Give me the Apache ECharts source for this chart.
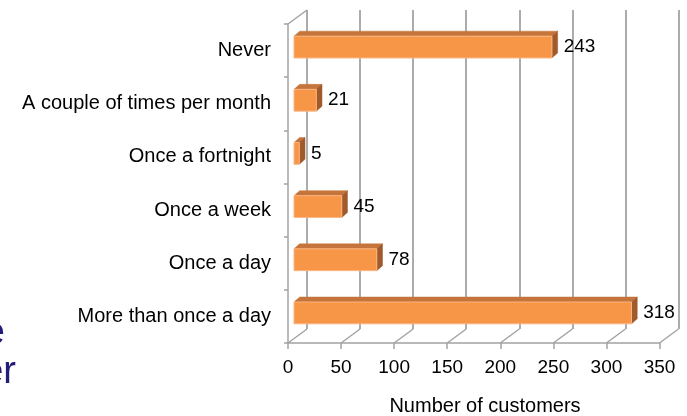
<!DOCTYPE html>
<html>
<head>
<meta charset="utf-8">
<script src="https://cdn.jsdelivr.net/npm/echarts@6/dist/echarts.min.js"></script>
<style>html,body{margin:0;padding:0;background:#fff}#c{width:687px;height:416px}</style>
</head>
<body>
<div id="c"></div>
<script>
// ---- data ----
var categories = ['Never', 'A couple of times per month', 'Once a fortnight', 'Once a week', 'Once a day', 'More than once a day'];
var customers = [243, 21, 5, 45, 78, 318];
var xTicks = [0, 50, 100, 150, 200, 250, 300, 350];
var axisTitle = 'Number of customers';
var sideFragments = ['e', 'er'];

// ---- styling constants ----
var FONT = "'Liberation Sans', Arial, sans-serif";
var GRID_COLOR = '#a3a3a3';
var DEPTH_X = 19, DEPTH_Y = 14;   // wall depth offset
var BAR_OFF_X = 6, BAR_OFF_Y = 3.5; // bar plane offset
var BAR_DX = 5.7, BAR_DY = 5;       // bar depth

var chart = echarts.init(document.getElementById('c'), null, {renderer: 'canvas'});

var barData = customers.map(function (v, i) { return [v, categories[i]]; });
var floorData = xTicks.map(function (t) { return [t, categories[categories.length - 1]]; });

var option = {
  animation: false,
  backgroundColor: '#fff',
  grid: [
    {left: 288, right: 27.5, top: 24, bottom: 73},
    {left: 288 + DEPTH_X, right: 27.5 - DEPTH_X, top: 24 - DEPTH_Y, bottom: 73 + DEPTH_Y}
  ],
  xAxis: [
    {
      type: 'value', gridIndex: 0, min: 0, max: 350, interval: 50,
      axisLine: {show: true, lineStyle: {color: GRID_COLOR, width: 1.5}},
      axisTick: {show: true, length: 6, lineStyle: {color: GRID_COLOR, width: 1.5}},
      splitLine: {show: false},
      axisLabel: {color: '#000', fontSize: 19, fontFamily: FONT, margin: 15}
    },
    {
      type: 'value', gridIndex: 1, min: 0, max: 350, interval: 50,
      axisLine: {show: false}, axisTick: {show: false}, axisLabel: {show: false},
      splitLine: {show: true, lineStyle: {color: GRID_COLOR, width: 1.8}}
    }
  ],
  yAxis: [
    {
      type: 'category', gridIndex: 0, data: categories, inverse: true,
      axisLine: {show: true, lineStyle: {color: GRID_COLOR, width: 1.5}},
      axisTick: {show: true, length: 4, inside: false, lineStyle: {color: GRID_COLOR, width: 1.5}},
      axisLabel: {color: '#000', fontSize: 20, fontFamily: FONT, margin: 17},
      splitLine: {show: false}
    },
    {
      type: 'category', gridIndex: 1, data: categories, inverse: true,
      show: false
    }
  ],
  graphic: [
    {type: 'text', style: {text: axisTitle, x: 485, y: 406, align: 'center', verticalAlign: 'middle', fill: '#000', font: '20px ' + FONT}},
    {type: 'text', style: {text: sideFragments[0], x: 5, y: 334, align: 'right', verticalAlign: 'middle', fill: '#221c78', font: '38px ' + FONT}},
    {type: 'text', style: {text: sideFragments[1], x: 16, y: 373, align: 'right', verticalAlign: 'middle', fill: '#221c78', font: '38px ' + FONT}}
  ],
  series: [
    {
      // floor and left-wall depth edges
      type: 'custom', xAxisIndex: 0, yAxisIndex: 0, silent: true, z: 1,
      data: floorData,
      encode: {x: 0, y: 1},
      renderItem: function (params, api) {
        var cs = params.coordSys;
        var x = api.coord([api.value(0), api.value(1)])[0];
        var bottom = cs.y + cs.height;
        var children = [{
          type: 'line',
          shape: {x1: x, y1: bottom, x2: x + DEPTH_X, y2: bottom - DEPTH_Y},
          style: {stroke: GRID_COLOR, lineWidth: 1.5}
        }];
        if (params.dataIndex === 0) {
          children.push({
            type: 'line',
            shape: {x1: cs.x, y1: cs.y, x2: cs.x + DEPTH_X, y2: cs.y - DEPTH_Y},
            style: {stroke: GRID_COLOR, lineWidth: 1.5}
          });
        }
        return {type: 'group', children: children};
      }
    },
    {
      type: 'custom', xAxisIndex: 0, yAxisIndex: 0, z: 5,
      data: barData,
      encode: {x: 0, y: 1},
      renderItem: function (params, api) {
        var v = api.value(0);
        var cat = api.value(1);
        var p = api.coord([v, cat]);
        var p0 = api.coord([0, cat]);
        var band = api.size([0, 1])[1];
        var h = band * 0.41;
        var x0 = p0[0] + BAR_OFF_X, x1 = p[0] + BAR_OFF_X;
        var yc = p[1] - BAR_OFF_Y;
        var yt = yc - h / 2, yb = yc + h / 2;
        return {
          type: 'group',
          children: [
            {type: 'polygon', shape: {points: [[x0, yt], [x1, yt], [x1 + BAR_DX, yt - BAR_DY], [x0 + BAR_DX, yt - BAR_DY]]},
             style: {fill: '#c5743b', stroke: '#c5743b', lineWidth: 0.5}},
            {type: 'polygon', shape: {points: [[x1, yt], [x1 + BAR_DX, yt - BAR_DY], [x1 + BAR_DX, yb - BAR_DY], [x1, yb]]},
             style: {fill: '#a05a2b', stroke: '#a05a2b', lineWidth: 0.5}},
            {type: 'rect', shape: {x: x0, y: yt, width: x1 - x0, height: h},
             style: {fill: '#f79646', stroke: '#fbb583', lineWidth: 1}},
            {type: 'text', style: {text: String(v), x: x1 + BAR_DX + 6, y: yc, align: 'left', verticalAlign: 'middle', fill: '#000', font: '19px ' + FONT}}
          ]
        };
      }
    }
  ]
};
chart.setOption(option);
</script>
</body>
</html>
